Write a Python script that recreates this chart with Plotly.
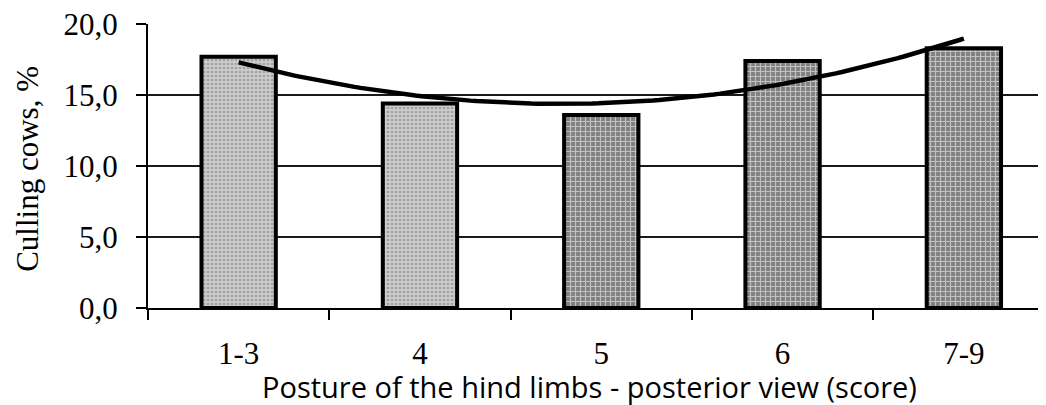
import numpy as np
import plotly.graph_objects as go

categories = ["1-3", "4", "5", "6", "7-9"]
culling_pct = [17.7, 14.4, 13.6, 17.4, 18.3]
y_ticks = [0, 5, 10, 15, 20]

x_idx = np.arange(len(categories))
coef = np.polyfit(x_idx, culling_pct, 2)
trend_x = np.linspace(0, len(categories) - 1, 120)
trend_y = np.polyval(coef, trend_x)

SERIF = "Liberation Serif"
SANS = "Open Sans"

fig = go.Figure()
fig.add_trace(go.Bar(
    x=categories, y=culling_pct, width=0.41,
    marker=dict(
        color="#9a9a9a",
        line=dict(color="black", width=4),
        pattern=dict(shape="+",
                     bgcolor=["#a4a4a4", "#a4a4a4", "#808080", "#808080", "#808080"],
                     fgcolor="white",
                     size=[4, 4, 5, 5, 5],
                     solidity=[0.55, 0.55, 0.42, 0.42, 0.42]),
    ),
    showlegend=False, hoverinfo="skip",
))
fig.add_trace(go.Scatter(
    x=trend_x, y=trend_y, xaxis="x2", yaxis="y", mode="lines",
    line=dict(color="black", width=4.5), showlegend=False, hoverinfo="skip",
))

# the page body adds an 8px margin; the figure is sized to fill the rest of the window
x_max = 4.453
fig.update_layout(
    width=1038, height=397,
    margin=dict(l=140, r=0, t=16, b=97),
    plot_bgcolor="white", paper_bgcolor="white",
    separators=",.",
    xaxis=dict(
        type="category", range=[-0.5, x_max], tickson="boundaries",
        ticks="outside", ticklen=10, tickwidth=2, tickcolor="black",
        showline=True, linecolor="black", linewidth=2, showgrid=False,
        tickfont=dict(family=SERIF, size=31, color="black"),
        ticklabelstandoff=17, automargin=False, ticklabeloverflow="allow",
    ),
    xaxis2=dict(overlaying="x", range=[-0.5, x_max], visible=False),
    yaxis=dict(
        range=[0, 20], tickvals=y_ticks, tickformat=".1f",
        ticks="outside", ticklen=10, tickwidth=2, tickcolor="black",
        showline=True, linecolor="black", linewidth=2,
        showgrid=True, gridcolor="#1a1a1a", gridwidth=1.6, zeroline=False,
        tickfont=dict(family=SERIF, size=31, color="black"),
        ticklabelstandoff=12, automargin=False, ticklabeloverflow="allow",
    ),
    annotations=[
        dict(text="Posture of the hind limbs - posterior view (score)",
             xref="paper", yref="paper", x=0.492, y=0, yshift=-78,
             xanchor="center", yanchor="middle", showarrow=False,
             font=dict(family=SANS, size=29, color="black")),
        dict(text="Culling cows, %", textangle=-90,
             xref="paper", yref="paper", x=0, xshift=-120, y=0.49,
             xanchor="center", yanchor="middle", showarrow=False,
             font=dict(family=SERIF, size=31, color="black")),
    ],
)

fig.write_html("out.html")
